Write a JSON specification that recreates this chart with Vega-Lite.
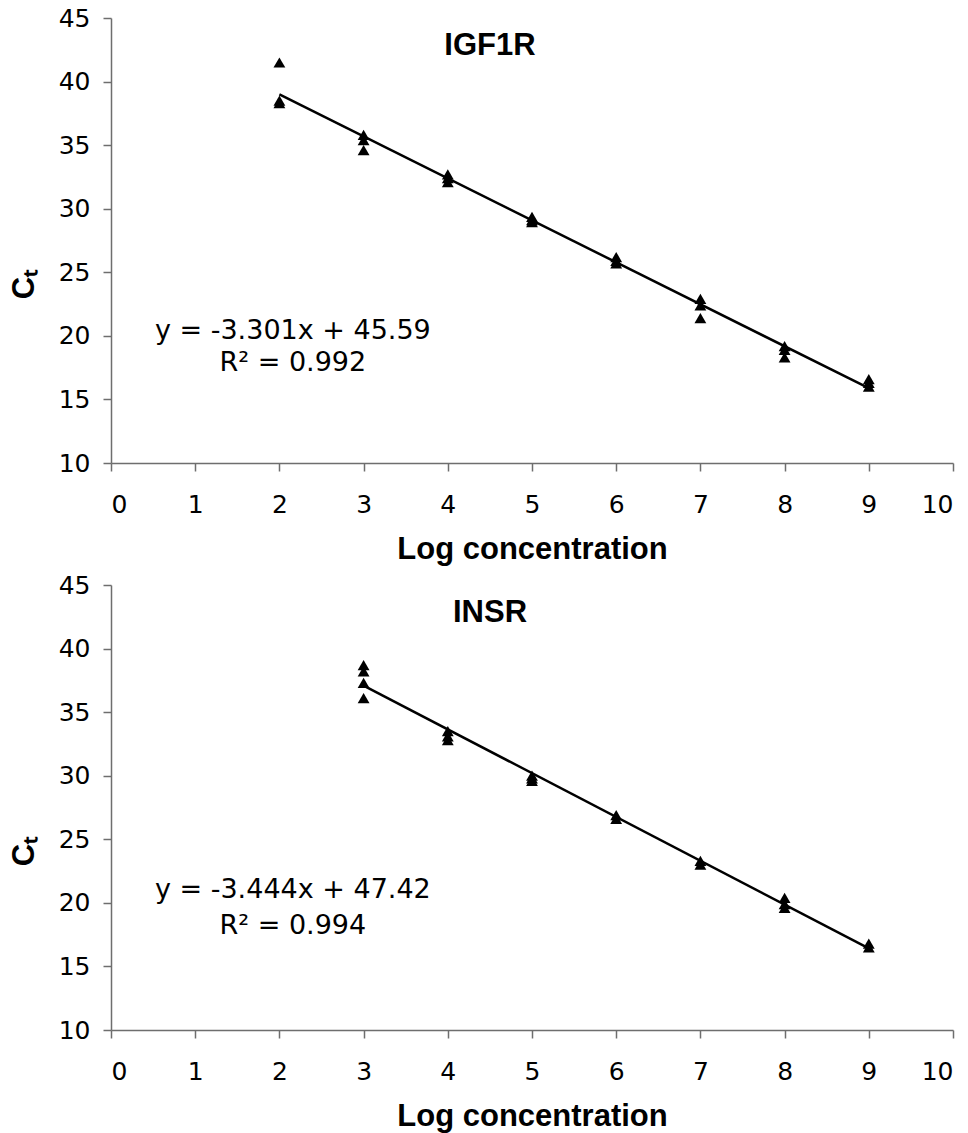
{
  "$schema": "https://vega.github.io/schema/vega-lite/v6.json",
  "background": "white",
  "padding": {"left": 8, "top": 6, "right": 5, "bottom": 5},
  "spacing": 122,
  "bounds": "flush",
  "config": {
    "view": {"stroke": null},
    "axis": {
      "grid": false,
      "domainColor": "#6e6e6e",
      "tickColor": "#6e6e6e",
      "domainWidth": 1.5,
      "tickWidth": 1.5,
      "tickSize": 8,
      "labelColor": "black",
      "labelFont": "DejaVu Sans",
      "labelFontSize": 25,
      "titleFont": "Liberation Sans",
      "titleFontSize": 31,
      "titleFontWeight": "bold",
      "titleColor": "black"
    },
    "title": {"font": "Liberation Sans", "fontSize": 31, "fontWeight": "bold", "color": "black", "frame": "group"}
  },
  "datasets": {
    "igf1r": [
      {"log_conc": 2, "ct": 41.5}, {"log_conc": 2, "ct": 38.5}, {"log_conc": 2, "ct": 38.3},
      {"log_conc": 3, "ct": 35.8}, {"log_conc": 3, "ct": 35.4}, {"log_conc": 3, "ct": 34.6},
      {"log_conc": 4, "ct": 32.7}, {"log_conc": 4, "ct": 32.4}, {"log_conc": 4, "ct": 32.1},
      {"log_conc": 5, "ct": 29.35}, {"log_conc": 5, "ct": 29.1}, {"log_conc": 5, "ct": 28.95},
      {"log_conc": 6, "ct": 26.2}, {"log_conc": 6, "ct": 25.9}, {"log_conc": 6, "ct": 25.7},
      {"log_conc": 7, "ct": 22.9}, {"log_conc": 7, "ct": 22.4}, {"log_conc": 7, "ct": 21.4},
      {"log_conc": 8, "ct": 19.2}, {"log_conc": 8, "ct": 18.9}, {"log_conc": 8, "ct": 18.3},
      {"log_conc": 9, "ct": 16.6}, {"log_conc": 9, "ct": 16.3}, {"log_conc": 9, "ct": 16.0}
    ],
    "igf1r_fit": [
      {"log_conc": 2, "ct": 38.99},
      {"log_conc": 9, "ct": 15.88}
    ],
    "igf1r_eq": [
      {"log_conc": 2.16, "ct": 20.4, "label": "y = -3.301x + 45.59"},
      {"log_conc": 2.16, "ct": 17.9, "label": "R² = 0.992"}
    ],
    "insr": [
      {"log_conc": 3, "ct": 38.7}, {"log_conc": 3, "ct": 38.2}, {"log_conc": 3, "ct": 37.3}, {"log_conc": 3, "ct": 36.1},
      {"log_conc": 4, "ct": 33.5}, {"log_conc": 4, "ct": 33.1}, {"log_conc": 4, "ct": 32.8},
      {"log_conc": 5, "ct": 30.0}, {"log_conc": 5, "ct": 29.8}, {"log_conc": 5, "ct": 29.6},
      {"log_conc": 6, "ct": 26.9}, {"log_conc": 6, "ct": 26.6},
      {"log_conc": 7, "ct": 23.3}, {"log_conc": 7, "ct": 23.0},
      {"log_conc": 8, "ct": 20.4}, {"log_conc": 8, "ct": 19.9}, {"log_conc": 8, "ct": 19.6},
      {"log_conc": 9, "ct": 16.8}, {"log_conc": 9, "ct": 16.5}
    ],
    "insr_fit": [
      {"log_conc": 3, "ct": 37.09},
      {"log_conc": 9, "ct": 16.42}
    ],
    "insr_eq": [
      {"log_conc": 2.16, "ct": 21.0, "label": "y = -3.444x + 47.42"},
      {"log_conc": 2.16, "ct": 18.2, "label": "R² = 0.994"}
    ]
  },
  "vconcat": [
    {
      "width": 842,
      "height": 445,
      "title": {"text": "IGF1R", "offset": -56, "dx": -42},
      "encoding": {
        "x": {"field": "log_conc", "type": "quantitative", "scale": {"domain": [0, 10], "nice": false},
              "axis": {"values": [0,1,2,3,4,5,6,7,8,9,10], "title": "Log concentration", "labelPadding": 21, "titlePadding": 17}},
        "y": {"field": "ct", "type": "quantitative", "scale": {"domain": [10, 45], "nice": false, "zero": false},
              "axis": {"values": [10,15,20,25,30,35,40,45], "title": "Cₜ", "labelPadding": 13, "titlePadding": 18, "titleY": 266}}
      },
      "layer": [
        {"data": {"name": "igf1r"}, "mark": {"type": "point", "shape": "triangle-up", "filled": true, "color": "black", "opacity": 1, "size": 140}},
        {"data": {"name": "igf1r_fit"}, "mark": {"type": "line", "color": "black", "strokeWidth": 2.5}},
        {"data": {"name": "igf1r_eq"}, "mark": {"type": "text", "font": "DejaVu Sans", "fontSize": 27, "color": "black", "align": "center", "baseline": "middle"},
         "encoding": {"text": {"field": "label"}}}
      ]
    },
    {
      "width": 842,
      "height": 445,
      "title": {"text": "INSR", "offset": -56, "dx": -42},
      "encoding": {
        "x": {"field": "log_conc", "type": "quantitative", "scale": {"domain": [0, 10], "nice": false},
              "axis": {"values": [0,1,2,3,4,5,6,7,8,9,10], "title": "Log concentration", "labelPadding": 21, "titlePadding": 17}},
        "y": {"field": "ct", "type": "quantitative", "scale": {"domain": [10, 45], "nice": false, "zero": false},
              "axis": {"values": [10,15,20,25,30,35,40,45], "title": "Cₜ", "labelPadding": 13, "titlePadding": 18, "titleY": 266}}
      },
      "layer": [
        {"data": {"name": "insr"}, "mark": {"type": "point", "shape": "triangle-up", "filled": true, "color": "black", "opacity": 1, "size": 140}},
        {"data": {"name": "insr_fit"}, "mark": {"type": "line", "color": "black", "strokeWidth": 2.5}},
        {"data": {"name": "insr_eq"}, "mark": {"type": "text", "font": "DejaVu Sans", "fontSize": 27, "color": "black", "align": "center", "baseline": "middle"},
         "encoding": {"text": {"field": "label"}}}
      ]
    }
  ]
}
